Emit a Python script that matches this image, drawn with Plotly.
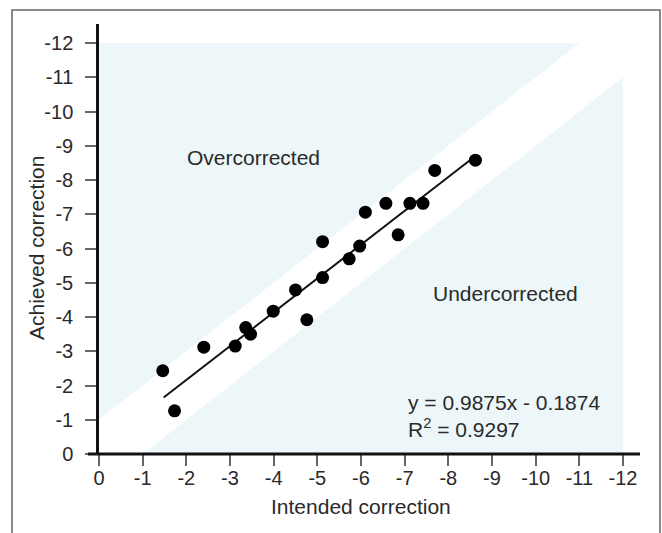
import plotly.graph_objects as go

# ---- data ----
intended = [-1.46, -1.73, -2.40, -3.12, -3.36, -3.47, -3.99, -4.50, -4.76, -5.12,
            -5.12, -5.73, -5.97, -6.10, -6.57, -6.85, -7.12, -7.42, -7.69, -8.62]
achieved = [-2.43, -1.26, -3.12, -3.15, -3.69, -3.50, -4.17, -4.79, -3.92, -5.15,
            -6.20, -5.70, -6.07, -7.06, -7.32, -6.40, -7.32, -7.32, -8.28, -8.58]

slope = 0.9875
intercept = -0.1874
r_squared = 0.9297
fit_x_start = -1.48
fit_x_end = -8.62

band = 1.0          # +/- 1 D band of correct outcome
axis_max = 12
tick_vals = list(range(0, -13, -1))
tick_text = [str(v) for v in tick_vals]

# plot-area geometry in pixels
L, R, T, B = 99, 22, 24, 79
W, H = 662, 533
pw = W - L - R
ph = H - T - B
x_hi = -axis_max * pw / 524.0
y_hi = -axis_max * ph / 411.0

def px_x(p):
    return (p - L) / pw

def px_y(p):
    return (H - B - p) / ph

fig = go.Figure()

shade = "#edf7fa"
# overcorrected region (upper-left)
fig.add_trace(go.Scatter(
    x=[0, 0, -(axis_max - band), 0],
    y=[-band, -axis_max, -axis_max, -band],
    fill="toself", fillcolor=shade, line=dict(width=0), mode="lines",
    hoverinfo="skip", showlegend=False))
# undercorrected region (lower-right)
fig.add_trace(go.Scatter(
    x=[-band, -axis_max, -axis_max, -band],
    y=[0, 0, -(axis_max - band), 0],
    fill="toself", fillcolor=shade, line=dict(width=0), mode="lines",
    hoverinfo="skip", showlegend=False))

# regression line
fx = [fit_x_start, fit_x_end]
fy = [slope * v + intercept for v in fx]
fig.add_trace(go.Scatter(x=fx, y=fy, mode="lines",
                         line=dict(color="#111111", width=2),
                         hoverinfo="skip", showlegend=False))

# points
fig.add_trace(go.Scatter(x=intended, y=achieved, mode="markers",
                         marker=dict(color="#000000", size=13),
                         showlegend=False))

font_main = "Liberation Sans, Arial, sans-serif"
txt_col = "#2a2a2a"
ann_size = 21

def ann(text, x, y, **kw):
    d = dict(text=text, xref="paper", yref="paper", x=px_x(x), y=px_y(y),
             xanchor="center", yanchor="middle", showarrow=False,
             font=dict(size=ann_size, color=txt_col, family=font_main))
    d.update(kw)
    return d

fig.update_layout(
    width=W, height=H,
    margin=dict(l=L, r=R, t=T, b=B),
    paper_bgcolor="white", plot_bgcolor="white",
    font=dict(family=font_main, color=txt_col),
    xaxis=dict(range=[0, x_hi], tickvals=tick_vals, ticktext=tick_text,
               showgrid=False, zeroline=False, showline=False,
               ticks="outside", ticklen=11, tickwidth=1.5, tickcolor="#666666",
               ticklabelstandoff=-5,
               tickfont=dict(size=20, color=txt_col, family=font_main)),
    yaxis=dict(range=[0, y_hi], tickvals=tick_vals, ticktext=tick_text,
               showgrid=False, zeroline=False, showline=True,
               linecolor="#111111", linewidth=2.5,
               ticks="outside", ticklen=11, tickwidth=1.5, tickcolor="#666666",
               ticklabelstandoff=8,
               tickfont=dict(size=20, color=txt_col, family=font_main)),
    shapes=[
        # x axis line extended to the left like the reference
        dict(type="line", xref="paper", yref="paper",
             x0=px_x(88), x1=1.0, y0=0, y1=0,
             line=dict(color="#111111", width=3)),
        # outer frame
        dict(type="rect", xref="paper", yref="paper",
             x0=px_x(12), x1=px_x(660), y0=px_y(10), y1=px_y(560),
             line=dict(color="#666666", width=1.5)),
    ],
    annotations=[
        ann("Intended correction", 361, 506),
        ann("Achieved correction", 36, 248, textangle=-90),
        ann("Overcorrected", 253, 158),
        ann("Undercorrected", 505, 293),
        ann(f"y = {slope}x - {abs(intercept)}<br>R<sup>2</sup> = {r_squared}",
            406, 389, xanchor="left", yanchor="top", align="left"),
    ],
)

fig.write_html("out.html")
